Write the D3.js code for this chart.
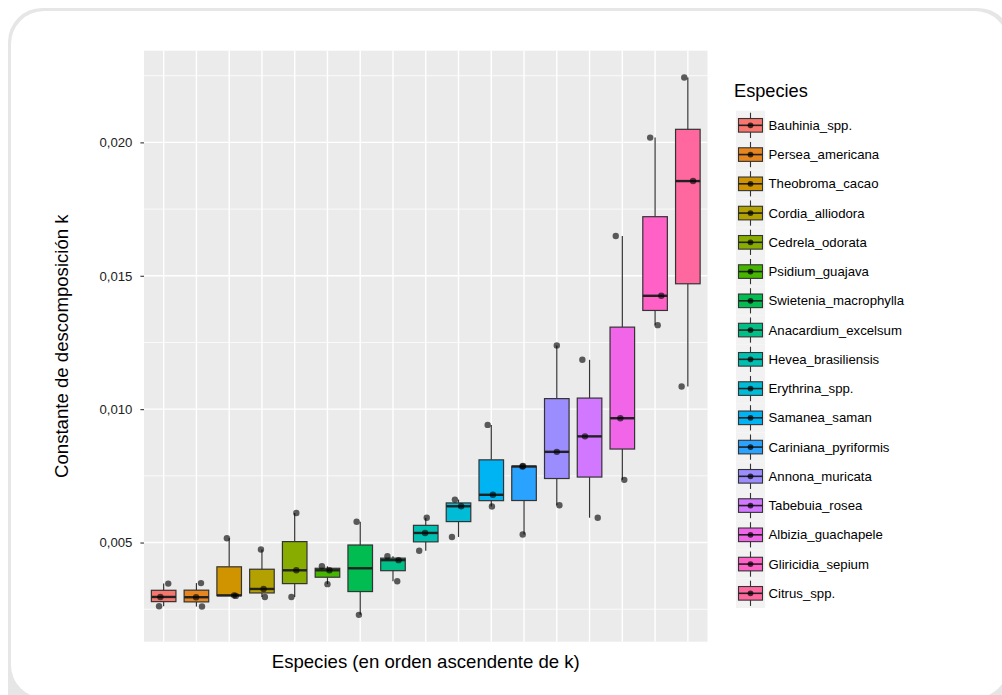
<!DOCTYPE html>
<html>
<head>
<meta charset="utf-8">
<script src="https://cdn.jsdelivr.net/npm/d3@7"></script>
<style>
  body { margin: 0; background: #fff; }
  svg text { font-family: "Liberation Sans", Arial, sans-serif; }
</style>
</head>
<body>
<div id="vis"></div>
<script>
const FRAME_WIDTH = 1002;
const FRAME_HEIGHT = 695;
const PANEL = {left: 144, right: 707.5, top: 50.7, bottom: 641.7};

// species in ascending order of k
const species = ["Bauhinia_spp.", "Persea_americana", "Theobroma_cacao", "Cordia_alliodora",
  "Cedrela_odorata", "Psidium_guajava", "Swietenia_macrophylla", "Anacardium_excelsum",
  "Hevea_brasiliensis", "Erythrina_spp.", "Samanea_saman", "Cariniana_pyriformis",
  "Annona_muricata", "Tabebuia_rosea", "Albizia_guachapele", "Gliricidia_sepium", "Citrus_spp."];

// observed decomposition constants k per species
const kObs = [
  [0.00346, 0.00296, 0.00261],
  [0.00348, 0.00295, 0.00260],
  [0.00516, 0.00302, 0.00300],
  [0.00474, 0.00326, 0.00296],
  [0.00611, 0.00396, 0.00296],
  [0.00411, 0.00396, 0.00344],
  [0.00578, 0.00229],
  [0.00449, 0.00434, 0.00355],
  [0.00593, 0.00536, 0.00469],
  [0.00661, 0.00636, 0.00521],
  [0.00941, 0.00679, 0.00635],
  [0.00787, 0.00785, 0.00530],
  [0.01239, 0.00840, 0.00640],
  [0.01185, 0.00898, 0.00593],
  [0.01649, 0.00966, 0.00735],
  [0.02018, 0.01425, 0.01315],
  [0.02243, 0.01855, 0.01085]
];

// horizontal jitter of each observation (fraction of category step)
const jitter = [
  [0.14, -0.10, -0.14],
  [0.14, -0.01, 0.17],
  [-0.07, 0.15, 0.20],
  [-0.03, 0.05, 0.09],
  [0.05, 0.05, -0.10],
  [-0.17, 0.06, 0.00],
  [-0.11, -0.04],
  [-0.17, 0.17, 0.13],
  [0.03, -0.02, -0.20],
  [-0.11, 0.08, -0.20],
  [-0.11, 0.05, 0.02],
  [-0.03, -0.05, -0.04],
  [0.00, 0.00, 0.08],
  [-0.22, -0.14, 0.25],
  [-0.20, -0.06, 0.06],
  [-0.15, 0.19, 0.08],
  [-0.11, 0.16, -0.19]
];

const majorTicks = [0.005, 0.010, 0.015, 0.020];
const minorTicks = [0.0025, 0.0075, 0.0125, 0.0175, 0.0225];

// ggplot-like hue palette (polar LUV -> sRGB)
function hclLuv(h, c, l) {
  const Xn = 95.047, Yn = 100, Zn = 108.883;
  const un = 4 * Xn / (Xn + 15 * Yn + 3 * Zn), vn = 9 * Yn / (Xn + 15 * Yn + 3 * Zn);
  const hr = h * Math.PI / 180;
  const U = c * Math.cos(hr), V = c * Math.sin(hr);
  const Y = l > 8 ? Yn * Math.pow((l + 16) / 116, 3) : Yn * l / 903.3;
  const u = U / (13 * l) + un, v = V / (13 * l) + vn;
  const X = 9 * Y * u / (4 * v);
  const Z = -X / 3 - 5 * Y + 3 * Y / v;
  const x = X / 100, y = Y / 100, z = Z / 100;
  const lin = [
    3.240479 * x - 1.537150 * y - 0.498535 * z,
    -0.969256 * x + 1.875992 * y + 0.041556 * z,
    0.055648 * x - 0.204043 * y + 1.057311 * z
  ];
  const g = lin.map(t => {
    const s = t > 0.0031308 ? 1.055 * Math.pow(t, 1 / 2.4) - 0.055 : 12.92 * t;
    return Math.round(Math.max(0, Math.min(1, s)) * 255);
  });
  return d3.rgb(g[0], g[1], g[2]).formatHex();
}
const hueStep = 360 / species.length;
const colors = species.map((s, i) => hclLuv(15 + i * hueStep, 100, 65));

const svg = d3.select("#vis")
  .append("svg")
    .attr("width", FRAME_WIDTH)
    .attr("height", FRAME_HEIGHT);

// card frame
svg.append("rect")
  .attr("x", 8).attr("y", 8).attr("width", 1004).attr("height", 725)
  .attr("rx", 34).attr("fill", "#e6e6e6");
svg.append("rect")
  .attr("x", 11).attr("y", 11).attr("width", 997).attr("height", 687)
  .attr("rx", 33).attr("fill", "#fff");

// scales
const allK = kObs.flat();
const [kMin, kMax] = d3.extent(allK);
const pad = (kMax - kMin) * 0.05;

const Y_SCALE = d3.scaleLinear()
  .domain([kMin - pad, kMax + pad])
  .range([PANEL.bottom, PANEL.top]);

const X_SCALE = d3.scalePoint()
  .domain(species)
  .range([PANEL.left, PANEL.right])
  .padding(0.6);

const step = X_SCALE.step();
const boxW = step * 0.75;

// panel
svg.append("rect")
  .attr("x", PANEL.left).attr("y", PANEL.top)
  .attr("width", PANEL.right - PANEL.left).attr("height", PANEL.bottom - PANEL.top)
  .attr("fill", "#ebebeb");

const grid = svg.append("g");
grid.selectAll(".minor")
  .data(minorTicks)
  .enter()
  .append("line")
    .attr("x1", PANEL.left).attr("x2", PANEL.right)
    .attr("y1", d => Y_SCALE(d)).attr("y2", d => Y_SCALE(d))
    .attr("stroke", "#fff").attr("stroke-width", 0.8);
grid.selectAll(".major")
  .data(majorTicks)
  .enter()
  .append("line")
    .attr("x1", PANEL.left).attr("x2", PANEL.right)
    .attr("y1", d => Y_SCALE(d)).attr("y2", d => Y_SCALE(d))
    .attr("stroke", "#fff").attr("stroke-width", 1.4);
grid.selectAll(".vmajor")
  .data(species)
  .enter()
  .append("line")
    .attr("x1", d => X_SCALE(d)).attr("x2", d => X_SCALE(d))
    .attr("y1", PANEL.top).attr("y2", PANEL.bottom)
    .attr("stroke", "#fff").attr("stroke-width", 1.4);

// box stats
const stats = species.map((s, i) => {
  const v = kObs[i].slice().sort(d3.ascending);
  return {
    name: s, color: colors[i],
    min: v[0], max: v[v.length - 1],
    q1: d3.quantile(v, 0.25), med: d3.quantile(v, 0.5), q3: d3.quantile(v, 0.75)
  };
});

const boxes = svg.append("g").selectAll("g")
  .data(stats)
  .enter()
  .append("g");

boxes.append("line")
  .attr("x1", d => X_SCALE(d.name)).attr("x2", d => X_SCALE(d.name))
  .attr("y1", d => Y_SCALE(d.max)).attr("y2", d => Y_SCALE(d.q3))
  .attr("stroke", "#333").attr("stroke-width", 1.2);
boxes.append("line")
  .attr("x1", d => X_SCALE(d.name)).attr("x2", d => X_SCALE(d.name))
  .attr("y1", d => Y_SCALE(d.q1)).attr("y2", d => Y_SCALE(d.min))
  .attr("stroke", "#333").attr("stroke-width", 1.2);
boxes.append("rect")
  .attr("x", d => X_SCALE(d.name) - boxW / 2)
  .attr("y", d => Y_SCALE(d.q3))
  .attr("width", boxW)
  .attr("height", d => Y_SCALE(d.q1) - Y_SCALE(d.q3))
  .attr("fill", d => d.color)
  .attr("stroke", "#333").attr("stroke-width", 1.2);
boxes.append("line")
  .attr("x1", d => X_SCALE(d.name) - boxW / 2).attr("x2", d => X_SCALE(d.name) + boxW / 2)
  .attr("y1", d => Y_SCALE(d.med)).attr("y2", d => Y_SCALE(d.med))
  .attr("stroke", "#222").attr("stroke-width", 2.4);

// jittered observations
const points = [];
kObs.forEach((vals, i) => vals.forEach((k, j) => points.push({name: species[i], k: k, jx: jitter[i][j]})));

svg.append("g").selectAll("circle")
  .data(points)
  .enter()
  .append("circle")
    .attr("cx", d => X_SCALE(d.name) + d.jx * step)
    .attr("cy", d => Y_SCALE(d.k))
    .attr("r", 3.2)
    .attr("fill", "#000")
    .attr("fill-opacity", 0.62);

// y axis
const fmt = d3.formatLocale({decimal: ",", thousands: ".", grouping: [3], currency: ["", ""]}).format(".3f");
const yAxis = svg.append("g")
  .attr("transform", `translate(${PANEL.left},0)`)
  .call(d3.axisLeft(Y_SCALE).tickValues(majorTicks).tickFormat(fmt).tickSize(3.6).tickPadding(8));
yAxis.select(".domain").remove();
yAxis.selectAll(".tick line").attr("stroke", "#333").attr("stroke-width", 1.1);
yAxis.selectAll(".tick text")
  .attr("fill", "#222")
  .style("font-size", "13.2px")
  .style("font-family", "'Liberation Sans', Arial, sans-serif");

// axis titles
svg.append("text")
  .attr("x", (PANEL.left + PANEL.right) / 2)
  .attr("y", 668)
  .attr("text-anchor", "middle")
  .attr("fill", "#000")
  .style("font-size", "18.6px")
  .text("Especies (en orden ascendente de k)");

svg.append("text")
  .attr("transform", `translate(68,${(PANEL.top + PANEL.bottom) / 2}) rotate(-90)`)
  .attr("text-anchor", "middle")
  .attr("fill", "#000")
  .style("font-size", "18.6px")
  .text("Constante de descomposición k");

// legend
const LEG = {x: 736, top: 110.7, keyW: 29, keyH: 29.25};
svg.append("text")
  .attr("x", 734).attr("y", 97)
  .attr("fill", "#000")
  .style("font-size", "18.2px")
  .text("Especies");

const keys = svg.append("g").selectAll("g")
  .data(stats)
  .enter()
  .append("g")
    .attr("transform", (d, i) => `translate(${LEG.x},${LEG.top + i * LEG.keyH})`);

keys.append("rect")
  .attr("width", LEG.keyW).attr("height", LEG.keyH)
  .attr("fill", "#f2f2f2");
keys.append("line")
  .attr("x1", LEG.keyW / 2).attr("x2", LEG.keyW / 2)
  .attr("y1", 2).attr("y2", LEG.keyH - 2)
  .attr("stroke", "#333").attr("stroke-width", 1.1);
keys.append("rect")
  .attr("x", 2.5).attr("y", LEG.keyH / 2 - 6.8)
  .attr("width", LEG.keyW - 5).attr("height", 13.6)
  .attr("fill", d => d.color)
  .attr("stroke", "#333").attr("stroke-width", 1.1);
keys.append("line")
  .attr("x1", 2.5).attr("x2", LEG.keyW - 2.5)
  .attr("y1", LEG.keyH / 2).attr("y2", LEG.keyH / 2)
  .attr("stroke", "#222").attr("stroke-width", 1.6);
keys.append("circle")
  .attr("cx", LEG.keyW / 2).attr("cy", LEG.keyH / 2)
  .attr("r", 2.9)
  .attr("fill", "#000").attr("fill-opacity", 0.7);
keys.append("text")
  .attr("x", 32.5).attr("y", LEG.keyH / 2)
  .attr("dy", "0.35em")
  .attr("fill", "#000")
  .style("font-size", "13.2px")
  .text(d => d.name);
</script>
</body>
</html>
